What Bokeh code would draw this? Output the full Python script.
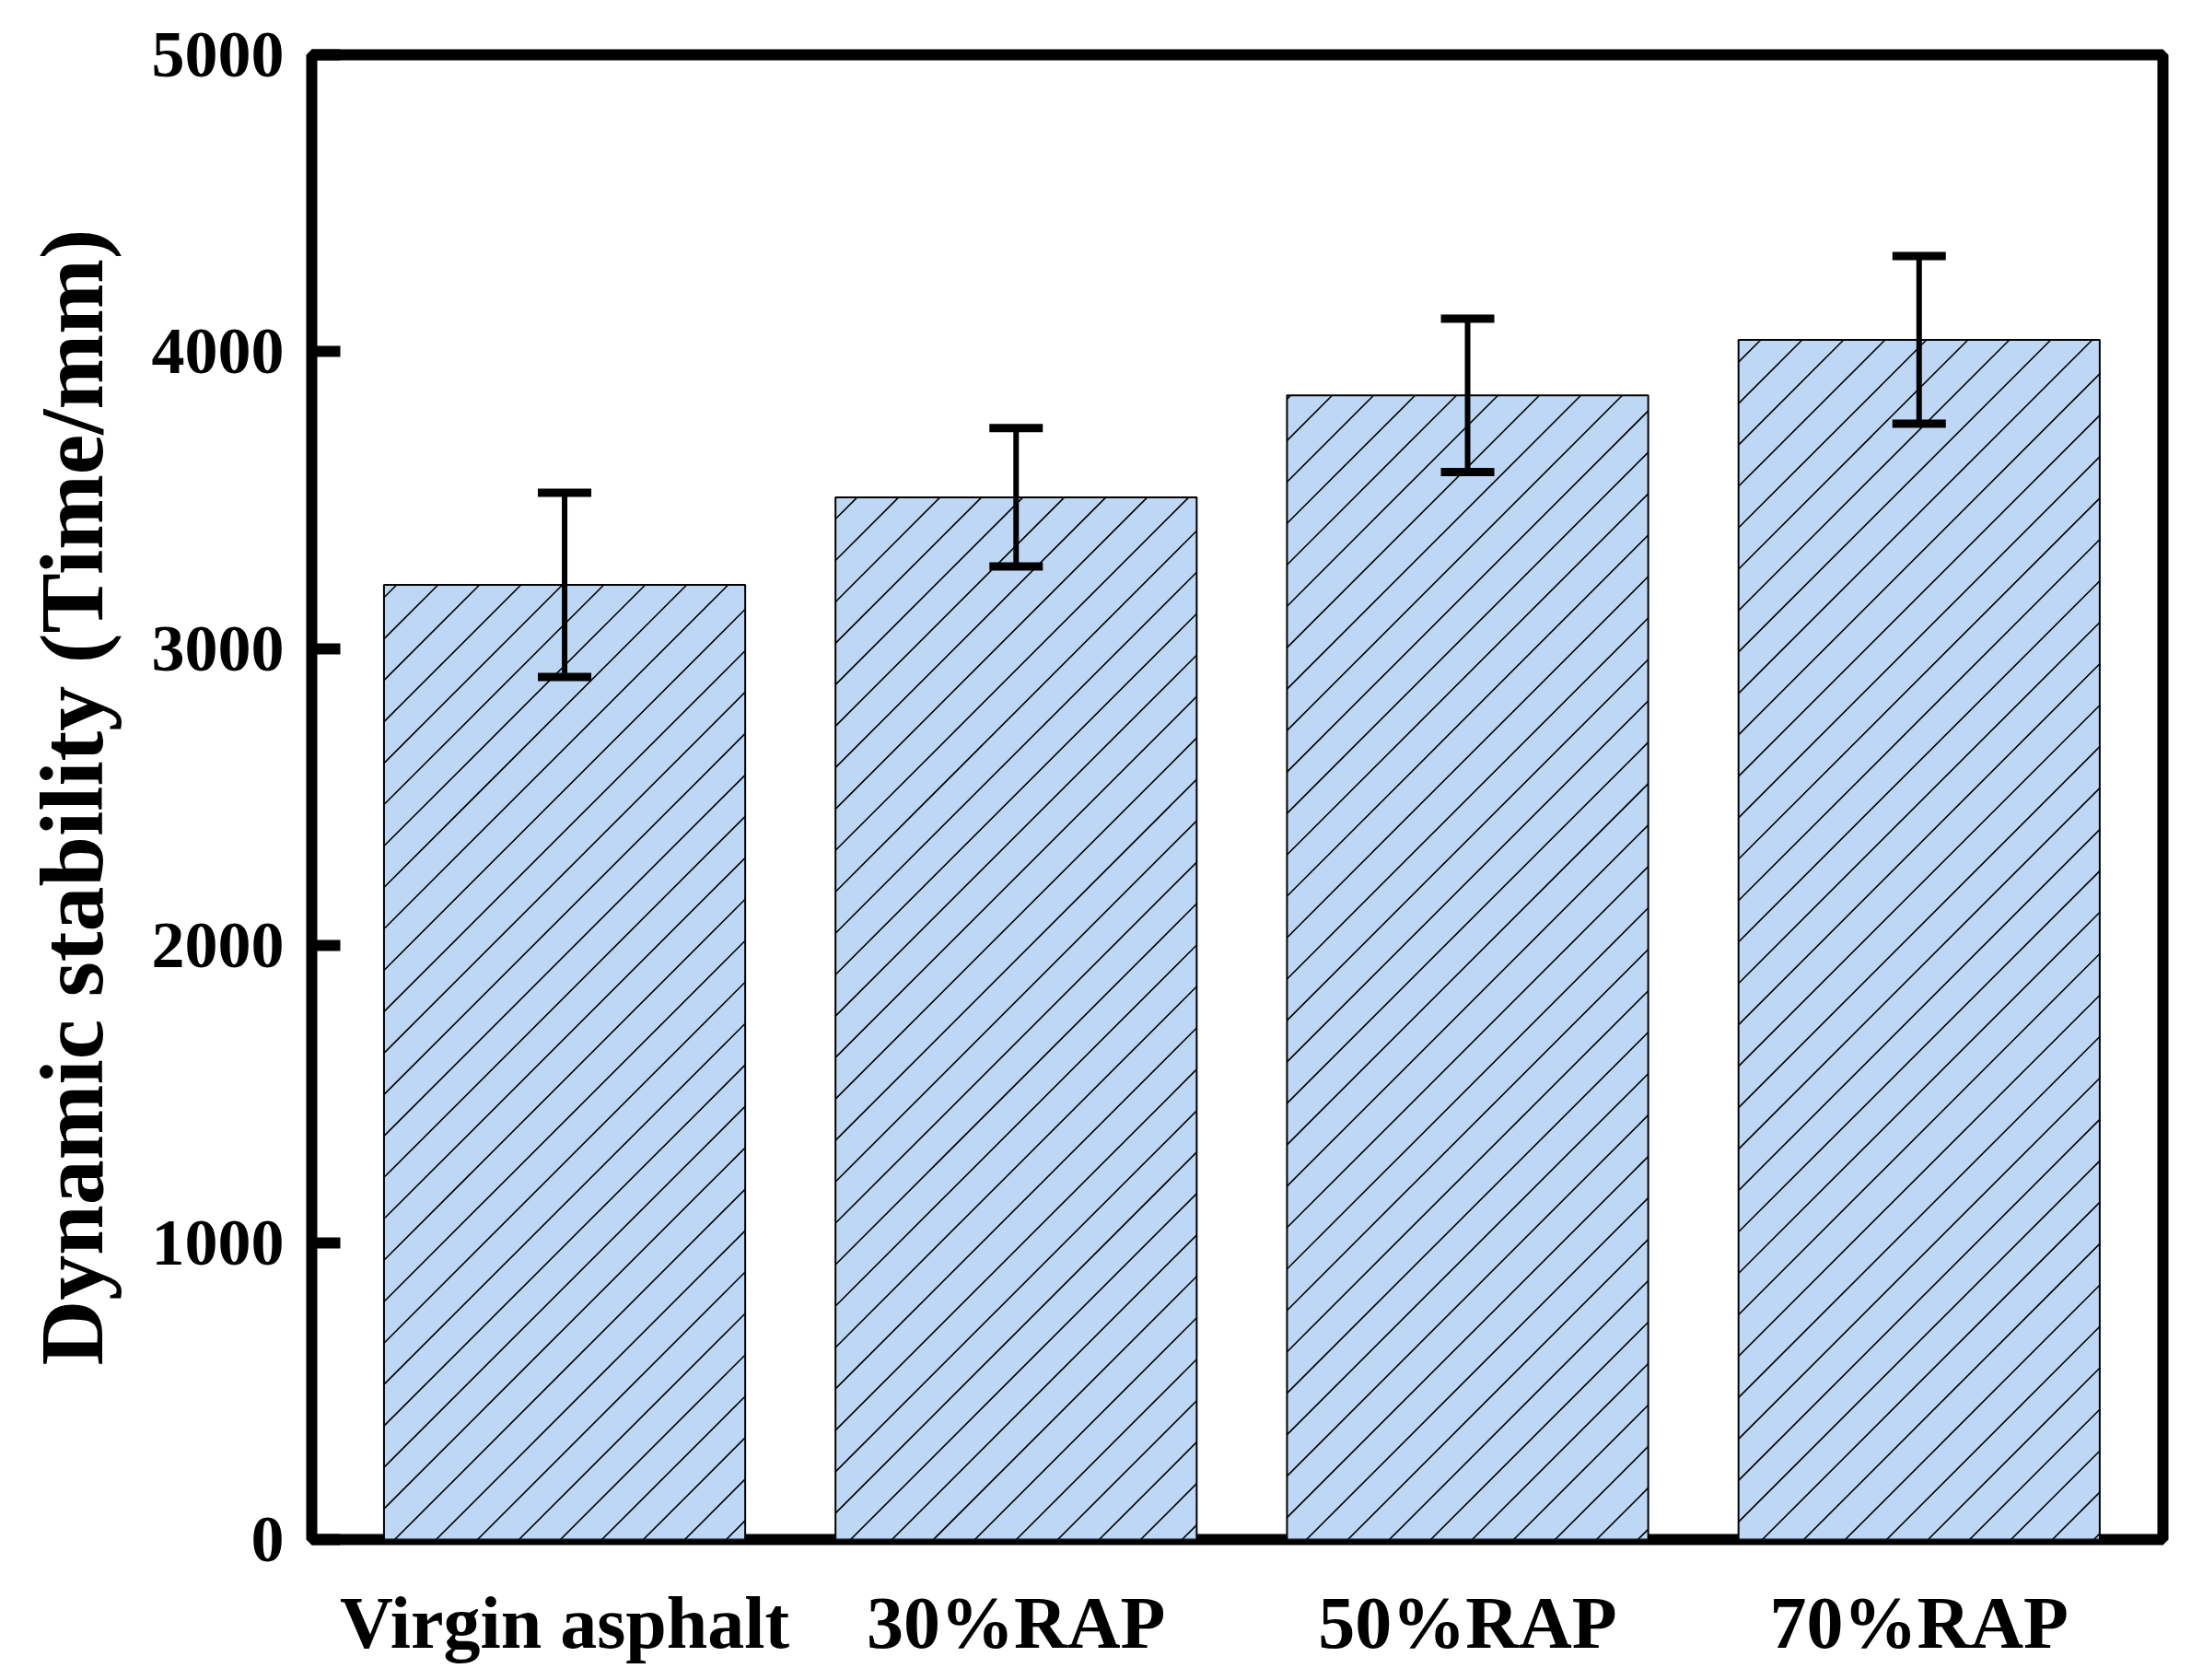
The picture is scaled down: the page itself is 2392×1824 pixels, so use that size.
import math
from bokeh.plotting import figure
from bokeh.models import ColumnDataSource, Range1d, FixedTicker, Whisker, TeeHead
from bokeh.embed import file_html
from bokeh.resources import INLINE

# data
groups = ["Virgin asphalt", "30%RAP", "50%RAP", "70%RAP"]
stability = [3215, 3510, 3853, 4040]
err = [310, 233, 258, 282]

xs = list(range(1, len(groups) + 1))
src = ColumnDataSource(data=dict(
    x=xs, top=stability,
    upper=[v + e for v, e in zip(stability, err)],
    lower=[v - e for v, e in zip(stability, err)],
))

FONT = "Liberation Serif"
PLOT_W, PLOT_H = 2376, 1808
B_L, B_R, B_T, B_B = 338, 28, 59, 136
X0, X1 = 0.44, 4.54
Y0, Y1 = 0, 5000
BAR_W = 0.8
HATCH = 45  # screen px between the 45 degree hatch lines


def hatch_segments():
    # bokeh's "/" hatch is steeper than 45 deg, so build the lines in screen
    # space from the bar data and hand them back in data units
    sx = (PLOT_W - B_L - B_R) / (X1 - X0)
    sy = (PLOT_H - B_T - B_B) / (Y1 - Y0)
    x0s, y0s, x1s, y1s = [], [], [], []
    for x, top in zip(xs, stability):
        lft = (x - BAR_W / 2 - X0) * sx
        rgt = (x + BAR_W / 2 - X0) * sx
        h = (top - Y0) * sy
        k = math.floor((lft - h) / HATCH)
        while k * HATCH <= rgt:
            c = k * HATCH
            a, b = max(lft, c), min(rgt, c + h)
            if b > a:
                x0s.append(a / sx + X0)
                y0s.append((a - c) / sy + Y0)
                x1s.append(b / sx + X0)
                y1s.append((b - c) / sy + Y0)
            k += 1
    return dict(x0=x0s, y0=y0s, x1=x1s, y1=y1s)


p = figure(width=PLOT_W, height=PLOT_H, output_backend="svg", toolbar_location=None,
           x_range=Range1d(X0, X1), y_range=Range1d(Y0, Y1),
           min_border_left=B_L, min_border_right=B_R,
           min_border_top=B_T, min_border_bottom=B_B)

p.vbar(x="x", top="top", width=BAR_W, source=src,
       fill_color="#bdd7f4", line_color=None)
p.segment(x0="x0", y0="y0", x1="x1", y1="y1",
          source=ColumnDataSource(data=hatch_segments()),
          line_color="black", line_width=1.6)
p.vbar(x="x", top="top", width=BAR_W, source=src,
       fill_color=None, line_color="black", line_width=2)

whisk = Whisker(base="x", upper="upper", lower="lower", source=src,
                line_color="black", line_width=6, level="annotation",
                upper_head=TeeHead(size=58, line_width=9, line_color="black"),
                lower_head=TeeHead(size=58, line_width=9, line_color="black"))
p.add_layout(whisk)

p.grid.visible = False
p.outline_line_color = "black"
p.outline_line_width = 12
p.background_fill_color = "white"
p.border_fill_color = "white"

# x axis: labels only
p.xaxis.ticker = FixedTicker(ticks=xs)
p.xaxis.major_label_overrides = {x: g for x, g in zip(xs, groups)}
p.xaxis.axis_line_color = None
p.xaxis.major_tick_line_color = None
p.xaxis.minor_tick_line_color = None
p.xaxis.major_label_standoff = 40
p.xaxis.major_label_text_font = FONT
p.xaxis.major_label_text_font_style = "bold"
p.xaxis.major_label_text_font_size = "80px"
p.xaxis.major_label_text_color = "black"

# y axis: inward ticks
p.yaxis.ticker = FixedTicker(ticks=[0, 1000, 2000, 3000, 4000, 5000])
p.yaxis.axis_line_color = None
p.yaxis.major_tick_in = 31
p.yaxis.major_tick_out = 0
p.yaxis.major_tick_line_width = 12
p.yaxis.major_tick_line_color = "black"
p.yaxis.minor_tick_line_color = None
p.yaxis.major_label_standoff = 30
p.yaxis.major_label_text_font = FONT
p.yaxis.major_label_text_font_style = "bold"
p.yaxis.major_label_text_font_size = "72px"
p.yaxis.major_label_text_color = "black"
p.yaxis.axis_label = "Dynamic stability (Time/mm)"
p.yaxis.axis_label_text_font = FONT
p.yaxis.axis_label_text_font_style = "bold"
p.yaxis.axis_label_text_font_size = "98px"
p.yaxis.axis_label_text_color = "black"
p.yaxis.axis_label_standoff = 30

open("out.html", "w").write(file_html(p, INLINE))
